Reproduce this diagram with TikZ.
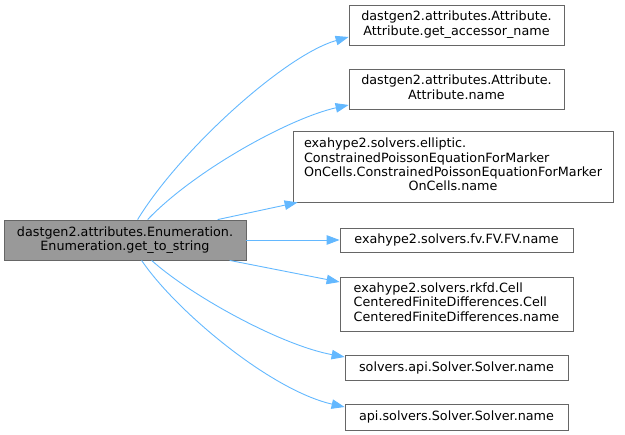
\documentclass[tikz,border=0pt]{standalone}
\usepackage{fontspec}
\setmainfont{DejaVu Sans}
\usetikzlibrary{arrows.meta}
\definecolor{edgeblue}{HTML}{63B8FF}
\definecolor{boxline}{HTML}{666666}
\definecolor{srcfill}{HTML}{999999}
\tikzset{
  fnbox/.style={draw=boxline, line width=0.8bp, inner sep=0pt,
    font=\fontsize{12.8}{14.4}\selectfont},
  call/.style={draw=edgeblue, line width=0.9bp,
    -{Triangle[length=13bp,width=9.5bp]}}
}
\newcommand{\fnlines}[2]{\begin{tabular}{@{}l@{}}#1\\\multicolumn{1}{@{}c@{}}{#2}\end{tabular}}

\begin{document}
\begin{tikzpicture}[x=1bp,y=-1bp]
    \useasboundingbox (0,0) rectangle (625,435);
    % caller
    \node[fnbox, fill=srcfill, minimum width=242bp, minimum height=40bp, align=center]
      (src) at (125,240) {dastgen2.attributes.Enumeration.\\Enumeration.get\_to\_string};
    % callees
    \node[fnbox, minimum width=215bp, minimum height=40bp] (getAccessor) at (456.5,25)
      {\fnlines{dastgen2.attributes.Attribute.}{Attribute.get\_accessor\_name}};
    \node[fnbox, minimum width=215bp, minimum height=40bp] (attrName) at (456.5,89)
      {\fnlines{dastgen2.attributes.Attribute.}{Attribute.name}};
    \node[fnbox, minimum width=320bp, minimum height=71bp] (poissonName) at (453,166.5)
      {\fnlines{exahype2.solvers.elliptic.\\ConstrainedPoissonEquationForMarker\\OnCells.ConstrainedPoissonEquationForMarker}{OnCells.name}};
    \node[fnbox, minimum width=233bp, minimum height=24bp] (fvName) at (456.5,240)
      {exahype2.solvers.fv.FV.FV.name};
    \node[fnbox, minimum width=233bp, minimum height=54bp] (rkfdName) at (456.5,304)
      {\fnlines{exahype2.solvers.rkfd.Cell\\CenteredFiniteDifferences.Cell}{CenteredFiniteDifferences.name}};
    \node[fnbox, minimum width=223bp, minimum height=25bp] (solversName) at (456.5,367.5)
      {solvers.api.Solver.Solver.name};
    \node[fnbox, minimum width=223bp, minimum height=26bp] (apiName) at (456.5,417)
      {api.solvers.Solver.Solver.name};

    % calls
    \draw[call] ([xshift=134bp]src.north west) .. controls (180,150) and (285,55) .. ([yshift=-12bp]getAccessor.west);
    \draw[call] ([xshift=144bp]src.north west) .. controls (195,170) and (290,118) .. ([yshift=-16bp]attrName.west);
    \draw[call] ([xshift=214bp]src.north west) -- ([xshift=5bp]poissonName.south west);
    \draw[call] (src.east) -- (fvName.west);
    \draw[call] ([xshift=226bp]src.south west) -- ([yshift=22bp]rkfdName.west);
    \draw[call] ([xshift=148bp]src.south west) .. controls (190,295) and (280,345) .. ([yshift=10.5bp]solversName.west);
    \draw[call] ([xshift=138bp]src.south west) .. controls (175,310) and (270,390) .. ([yshift=10bp]apiName.west);
\end{tikzpicture}
\end{document}
